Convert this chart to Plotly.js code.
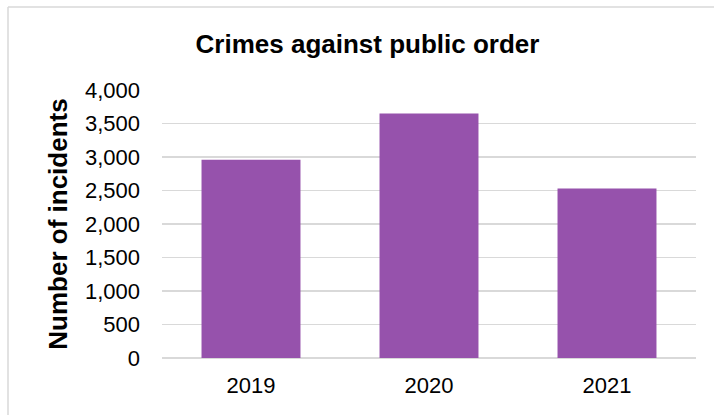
<!DOCTYPE html>
<html>
<head>
<meta charset="utf-8">
<script src="https://cdn.plot.ly/plotly-3.0.1.min.js"></script>
<style>html,body{margin:0;padding:0;background:#fff;}#chart{width:714px;height:415px;}</style>
</head>
<body>
<div id="chart"></div>
<script>
const years = ["2019", "2020", "2021"];
const incidents = [2960, 3650, 2530];
const yTickValues = [0, 500, 1000, 1500, 2000, 2500, 3000, 3500, 4000];
const yTickLabels = ["0", "500", "1,000", "1,500", "2,000", "2,500", "3,000", "3,500", "4,000"];

const font = "Arial, 'Liberation Sans', sans-serif";

const data = [{
  type: "bar",
  x: years,
  y: incidents,
  marker: {color: "#9652AC"},
  hoverinfo: "x+y"
}];

const layout = {
  width: 714,
  height: 415,
  paper_bgcolor: "#ffffff",
  plot_bgcolor: "#ffffff",
  margin: {l: 162, r: 18, t: 90, b: 57},
  bargap: 0.444,
  showlegend: false,
  title: {
    text: "<b>Crimes against public order</b>",
    font: {family: font, size: 26, color: "#000000"},
    x: 367.5 / 714, xref: "container", xanchor: "center",
    y: 1 - 44 / 415, yref: "container", yanchor: "middle"
  },
  xaxis: {
    type: "category",
    tickfont: {family: font, size: 22, color: "#000000"},
    showgrid: false,
    showline: false,
    zeroline: false,
    ticks: "",
    ticklabelstandoff: 12
  },
  yaxis: {
    range: [0, 4000],
    tickvals: yTickValues,
    ticktext: yTickLabels,
    tickfont: {family: font, size: 22, color: "#000000"},
    showgrid: true,
    gridcolor: "#d9d9d9",
    gridwidth: 1.5,
    zeroline: true,
    zerolinecolor: "#d9d9d9",
    zerolinewidth: 1.5,
    showline: false,
    ticks: "",
    ticklabelstandoff: 21,
    title: {
      text: "<b>Number of incidents</b>",
      font: {family: font, size: 26, color: "#000000"},
      standoff: 9
    }
  }
};

// outer chart border (light grey, left and top edges)
layout.shapes = [
  {type: "line", xref: "paper", yref: "paper",
   x0: -154 / 534, x1: -154 / 534, y0: -57 / 268, y1: (268 + 83) / 268,
   line: {color: "#d9d9d9", width: 1.5}},
  {type: "line", xref: "paper", yref: "paper",
   x0: -154 / 534, x1: (534 + 18) / 534, y0: (268 + 83) / 268, y1: (268 + 83) / 268,
   line: {color: "#d9d9d9", width: 1.5}}
];

Plotly.newPlot("chart", data, layout, {displayModeBar: false, staticPlot: true});
</script>
</body>
</html>
